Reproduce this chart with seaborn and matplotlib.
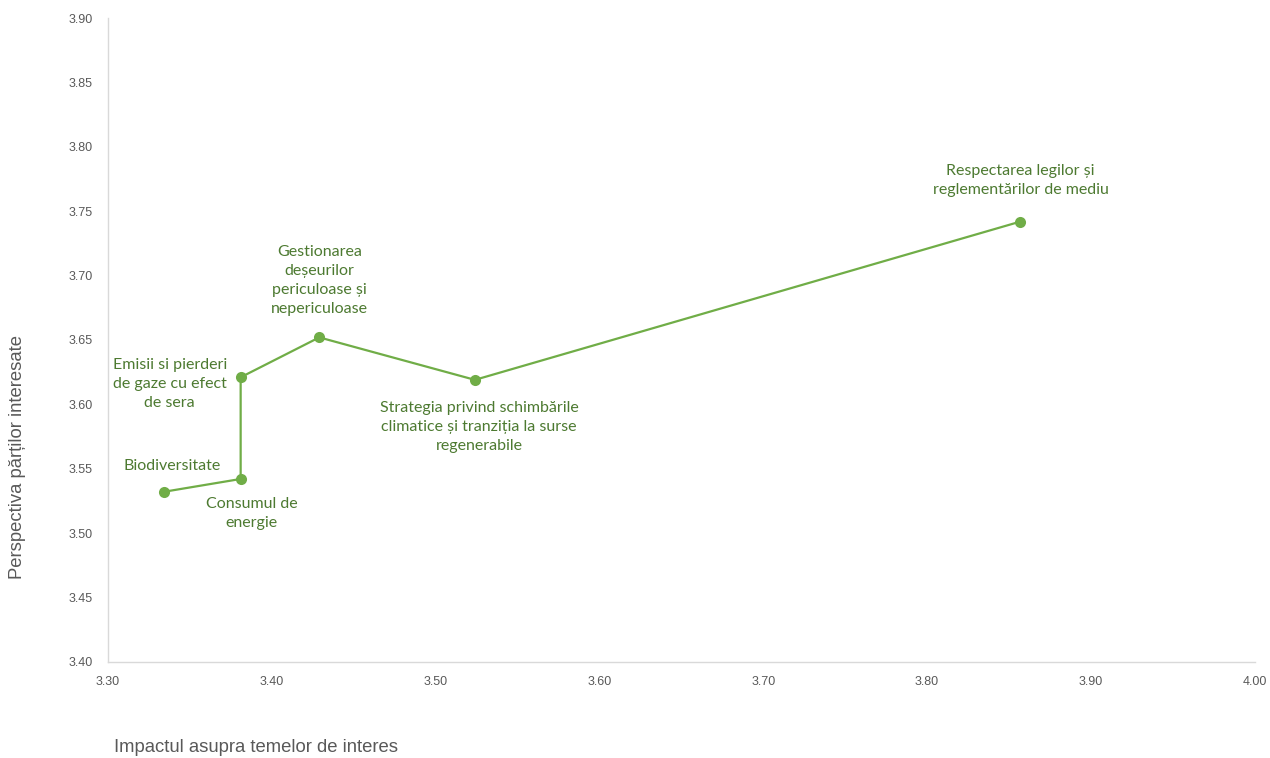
import pandas as pd
import seaborn as sns
import matplotlib.pyplot as plt

# Data
topics = [
    "Biodiversitate",
    "Consumul de\nenergie",
    "Emisii si pierderi\nde gaze cu efect\nde sera",
    "Gestionarea\ndeșeurilor\npericuloase și\nnepericuloase",
    "Strategia privind schimbările\nclimatice și tranziția la surse\nregenerabile",
    "Respectarea legilor și\nreglementărilor de mediu",
]
impact = [3.334, 3.381, 3.381, 3.429, 3.524, 3.857]
perspective = [3.532, 3.542, 3.621, 3.652, 3.619, 3.742]

# label offsets in pixels (text centre relative to point)
offsets = [(8, 26), (11, -35), (-71, -7), (0, 57), (4, -47), (0, 41)]

df = pd.DataFrame({"impact": impact, "perspective": perspective, "topic": topics})

sns.set_style("white")
plt.rcParams["font.family"] = ["Liberation Sans", "DejaVu Sans"]

fig = plt.figure(figsize=(12.7, 7.58), dpi=100)
ax = fig.add_axes([0.085, 0.127, 0.903, 0.849])

line_color = "#70AD47"
text_color = "#4D7A31"

sns.lineplot(data=df, x="impact", y="perspective", sort=False, estimator=None,
             ax=ax, color=line_color, linewidth=1.6, marker="o", markersize=8,
             markeredgewidth=0, markerfacecolor=line_color)

for (x, y, t), (dx, dy) in zip(zip(impact, perspective, topics), offsets):
    ax.annotate(t, (x, y), xytext=(dx, dy), textcoords="offset pixels",
                ha="center", va="center", fontsize=11.5, color=text_color,
                family=["Lato", "DejaVu Sans"], linespacing=1.45)

ax.set_xlim(3.30, 4.00)
ax.set_ylim(3.40, 3.90)
ax.set_xticks([3.30 + 0.1 * i for i in range(8)])
ax.set_yticks([3.40 + 0.05 * i for i in range(11)])
ax.xaxis.set_major_formatter(plt.FormatStrFormatter("%.2f"))
ax.yaxis.set_major_formatter(plt.FormatStrFormatter("%.2f"))
ax.tick_params(axis="both", length=0, labelsize=9, colors="#595959")
ax.tick_params(axis="x", pad=10)
ax.tick_params(axis="y", pad=11)

for side in ["top", "right"]:
    ax.spines[side].set_visible(False)
for side in ["left", "bottom"]:
    ax.spines[side].set_color("#D9D9D9")
    ax.spines[side].set_linewidth(1.0)

ax.set_xlabel("")
ax.set_ylabel("")
fig.text(0.09, 0.002, "Impactul asupra temelor de interes", fontsize=13.3,
         color="#595959", ha="left", va="bottom")
fig.text(0.014, 0.397, "Perspectiva părților interesate", fontsize=13.3,
         color="#595959", rotation=90, ha="center", va="center")

fig.savefig("out.png", dpi=100)
